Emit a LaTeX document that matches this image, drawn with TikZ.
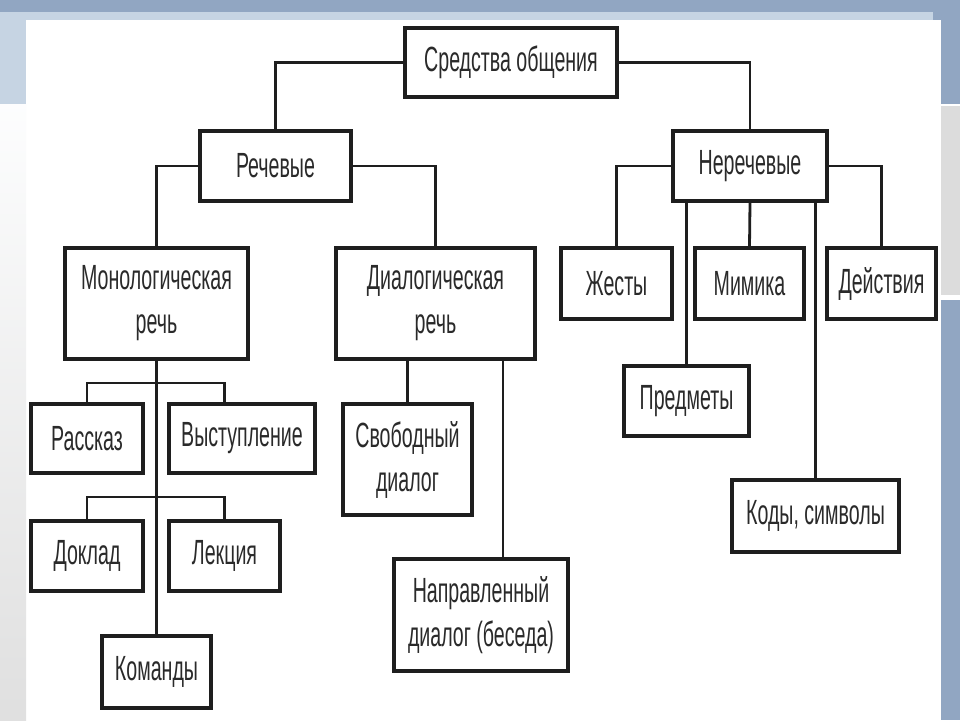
\documentclass[tikz,border=0pt]{standalone}
\usepackage{fontspec}
\setmainfont[FakeStretch=0.56]{Liberation Sans}
\definecolor{bandblue}{HTML}{91A6C2}
\definecolor{lightblue}{HTML}{C6D4E3}
\definecolor{sidegray}{HTML}{DCDCDC}
\definecolor{ink}{HTML}{1E1E1E}
\definecolor{txt}{HTML}{2A2A2A}
\tikzset{
  box/.style={draw=ink, line width=3.3pt, fill=white, inner sep=0pt, align=center,
    text=txt, font=\fontsize{35}{44}\selectfont},
  link/.style={draw=ink, line width=2.8pt}
}
\begin{document}
\begin{tikzpicture}[x=1pt,y=-1pt]
\useasboundingbox (0,0) rectangle (960,720);
% background
\fill[white] (0,0) rectangle (960,720);
\fill[lightblue] (0,12) rectangle (933,20);
\fill[lightblue] (0,20) rectangle (26,104);
\shade[top color=white!96!lightblue, bottom color=sidegray!90!white] (0,104) rectangle (26,720);
\fill[bandblue] (0,0) rectangle (960,12);
\fill[bandblue] (933,12) rectangle (960,20);
\fill[bandblue] (941,20) rectangle (960,104);
\fill[sidegray] (941,106) rectangle (960,295);
\fill[bandblue] (941,300) rectangle (960,720);

% nodes
\node[box, minimum width=212pt, minimum height=69pt] (top) at (511,62.5) {Средства общения};
\node[box, minimum width=151pt, minimum height=70pt] (rech) at (275.5,166) {Речевые};
\node[box, minimum width=154pt, minimum height=70pt] (nerech) at (750,166) {Неречевые};
\node[box, minimum width=183pt, minimum height=111pt] (monolog) at (156.5,303.5) {Монологическая\\речь};
\node[box, minimum width=199pt, minimum height=111pt] (dialog) at (435.5,303.5) {Диалогическая\\речь};
\node[box, minimum width=111pt, minimum height=71pt] (zhest) at (616.5,283.5) {Жесты};
\node[box, minimum width=109pt, minimum height=71pt] (mimika) at (749.5,283.5) {Мимика};
\node[box, minimum width=109pt, minimum height=71pt] (deistv) at (881.5,283.5) {Действия};
\node[box, minimum width=112pt, minimum height=69pt] (rasskaz) at (87,438.5) {Рассказ};
\node[box, minimum width=146pt, minimum height=69pt] (vystup) at (242,438.5) {Выступление};
\node[box, minimum width=112pt, minimum height=70pt] (doklad) at (87,556) {Доклад};
\node[box, minimum width=111pt, minimum height=70pt] (lekcia) at (224.5,556) {Лекция};
\node[box, minimum width=109pt, minimum height=72pt] (komandy) at (156.5,672) {Команды};
\node[box, minimum width=129pt, minimum height=111pt] (svob) at (407.5,459.5) {Свободный\\диалог};
\node[box, minimum width=174pt, minimum height=112pt] (naprav) at (481,615) {Направленный\\диалог (беседа)};
\node[box, minimum width=125pt, minimum height=70pt] (predm) at (686.5,401) {Предметы};
\node[box, minimum width=167pt, minimum height=72pt] (kody) at (815.5,516) {Коды, символы};

% connectors
\coordinate (b1) at (156.5,383);
\coordinate (b2) at (156.5,497);
\coordinate (dn) at (503,359);
\draw[link] (top.west) -| (rech.north);
\draw[link] (top.east) -| (nerech.north);
\draw[link] (rech.west) -| (monolog.north);
\draw[link] (rech.east) -| (dialog.north);
\draw[link] (nerech.west) -| (zhest.north);
\draw[link] (nerech.east) -| (deistv.north);
\draw[link] (nerech.south) -- (mimika.north);
\draw[link] (predm.north |- nerech.south) -- (predm.north);
\draw[link] (kody.north |- nerech.south) -- (kody.north);
\draw[link] (monolog.south) -- (komandy.north);
\draw[link] (b1) -| (rasskaz.north);
\draw[link] (b1) -| (lekcia.north |- vystup.north);
\draw[link] (b2) -| (doklad.north);
\draw[link] (b2) -| (lekcia.north);
\draw[link] (svob.north |- dialog.south) -- (svob.north);
\draw[link] (dn) -- (dn |- naprav.north);
\end{tikzpicture}
\end{document}
